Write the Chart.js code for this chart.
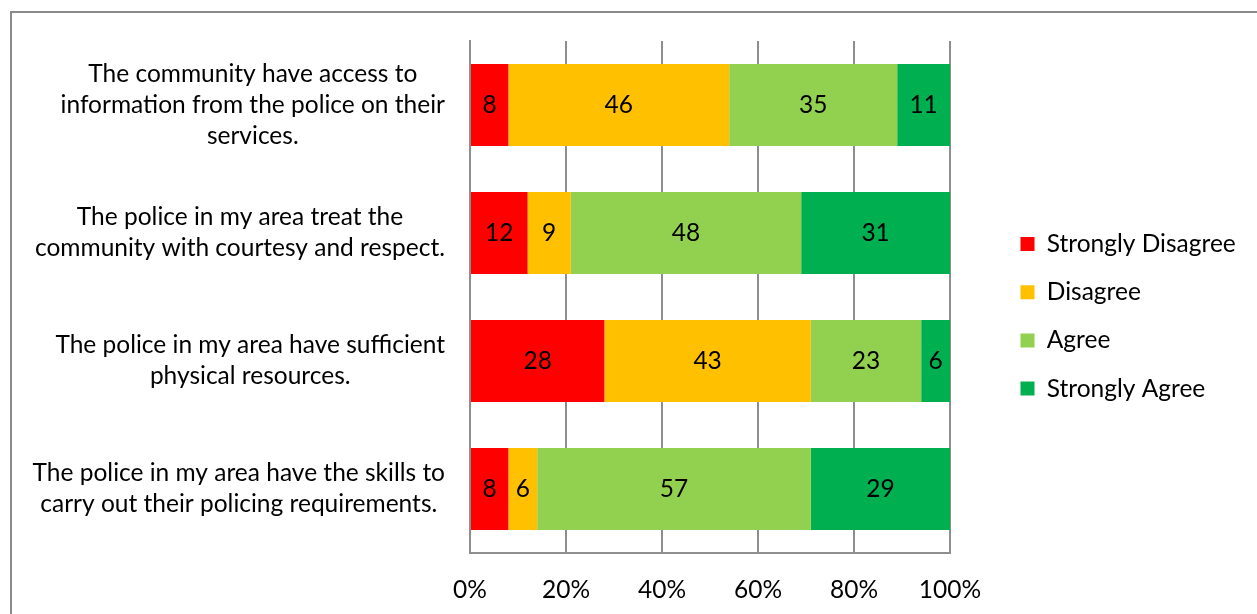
<!DOCTYPE html>
<html><head><meta charset="utf-8">
<script src="https://cdn.jsdelivr.net/npm/chart.js@4.4.1/dist/chart.umd.min.js"></script>
<style>
html,body{margin:0;padding:0;background:#fff;}
#wrap{position:relative;width:1257px;height:614px;overflow:hidden;background:#fff;}
#frame{position:absolute;left:10px;top:11px;width:1400px;height:800px;border-left:2px solid #8a8a8a;border-top:2px solid #8a8a8a;}
canvas{position:absolute;left:0;top:0;}
</style></head><body>
<div id="wrap"><div id="frame"></div><canvas id="c" width="1257" height="614"></canvas></div>
<script>
// ---- data ----
const categories = [
  ["The community have access to", "information from the police on their", "services."],
  ["The police in my area treat the", "community with courtesy and respect."],
  ["The police in my area have sufficient", "physical resources."],
  ["The police in my area have the skills to", "carry out their policing requirements."]
];
const seriesNames = ["Strongly Disagree", "Disagree", "Agree", "Strongly Agree"];
const stronglyDisagree = [8, 12, 28, 8];
const disagree = [46, 9, 43, 6];
const agree = [35, 48, 23, 57];
const stronglyAgree = [11, 31, 6, 29];
const xTickValues = [0, 20, 40, 60, 80, 100];
const xTickLabels = ["0%", "20%", "40%", "60%", "80%", "100%"];

// ---- styles ----
const seriesColors = ['#FF0000', '#FFC000', '#92D050', '#00B050'];
const FF = 'Lato, "Open Sans", sans-serif';
const FS = 24.5;
const LH = 31;
const GRID = '#8e8e8e';

function build() {
  const mctx = document.createElement('canvas').getContext('2d');
  mctx.font = FS + 'px ' + FF;
  const longest = Math.max(...seriesNames.map(s => mctx.measureText(s).width));
  const legendPad = 23.7, boxW = 14, dummyW = 46.8;
  const rightPad = Math.max(0, 1257 - (950 + dummyW) - (legendPad + boxW + FS / 2 + longest + 10));

  const yLabelPlugin = {
    id: 'yLabelPlugin',
    afterDraw(chart) {
      const ys = chart.scales.y, ctx = chart.ctx;
      ctx.save();
      ctx.font = FS + 'px ' + FF;
      ctx.fillStyle = '#000';
      ctx.textAlign = 'center';
      ctx.textBaseline = 'middle';
      const right = chart.chartArea.left - 25;
      categories.forEach((lines, i) => {
        const w = Math.max(...lines.map(l => ctx.measureText(l).width));
        const cx = right - w / 2;
        const cy = ys.getPixelForValue(i);
        lines.forEach((l, j) => ctx.fillText(l, cx, cy + (j - (lines.length - 1) / 2) * LH));
      });
      ctx.restore();
    }
  };

  const valueLabelPlugin = {
    id: 'valueLabelPlugin',
    afterDatasetsDraw(chart) {
      const ctx = chart.ctx;
      ctx.save();
      ctx.font = FS + 'px ' + FF;
      ctx.fillStyle = '#000';
      ctx.textAlign = 'center';
      ctx.textBaseline = 'middle';
      chart.data.datasets.forEach((ds, di) => {
        const meta = chart.getDatasetMeta(di);
        meta.data.forEach((el, i) => {
          const p = el.getProps(['x', 'y', 'base'], true);
          ctx.fillText(String(ds.data[i]), (p.x + p.base) / 2, p.y);
        });
      });
      ctx.restore();
    }
  };

  const seriesData = [stronglyDisagree, disagree, agree, stronglyAgree];

  new Chart(document.getElementById('c'), {
    type: 'bar',
    data: {
      labels: categories,
      datasets: seriesNames.map((n, k) => ({
        label: n,
        data: seriesData[k],
        backgroundColor: seriesColors[k],
        borderWidth: 0,
        categoryPercentage: 1,
        barPercentage: 0.64
      }))
    },
    options: {
      indexAxis: 'y',
      responsive: false,
      animation: false,
      devicePixelRatio: 1,
      layout: { padding: { top: 41, bottom: 0, left: 0, right: rightPad } },
      scales: {
        x: {
          type: 'linear', stacked: true, min: 0, max: 100, position: 'bottom',
          afterBuildTicks: s => { s.ticks = xTickValues.map(v => ({ value: v })); },
          afterFit: s => { s.height = 61; },
          ticks: {
            callback: (v) => xTickLabels[xTickValues.indexOf(v)],
            font: { family: FF, size: FS }, color: '#000', padding: 22, maxRotation: 0, autoSkip: false
          },
          grid: { color: GRID, lineWidth: 2, drawTicks: false },
          border: { display: true, color: GRID, width: 2 }
        },
        y: {
          type: 'category', stacked: true,
          grid: { display: false, drawTicks: false },
          border: { display: true, color: GRID, width: 2 },
          ticks: { display: false },
          afterFit: s => { s.width = 470; }
        },
        yR: {
          type: 'linear', position: 'right', display: true,
          grid: { display: false, drawTicks: false },
          border: { display: false },
          ticks: { display: false },
          afterFit: s => { s.width = dummyW; }
        }
      },
      plugins: {
        tooltip: { enabled: false },
        legend: {
          position: 'right', align: 'center', fullSize: false, maxWidth: 500,
          title: { display: true, text: '', font: { size: 1 }, padding: { top: 37.4, bottom: 0 } },
          labels: {
            boxWidth: boxW, boxHeight: 14, padding: legendPad, color: '#000',
            font: { family: FF, size: FS }
          }
        }
      }
    },
    plugins: [yLabelPlugin, valueLabelPlugin]
  });
}

if (document.fonts && document.fonts.load) {
  document.fonts.load(FS + 'px Lato').then(build, build);
} else { build(); }
</script>
</body></html>
